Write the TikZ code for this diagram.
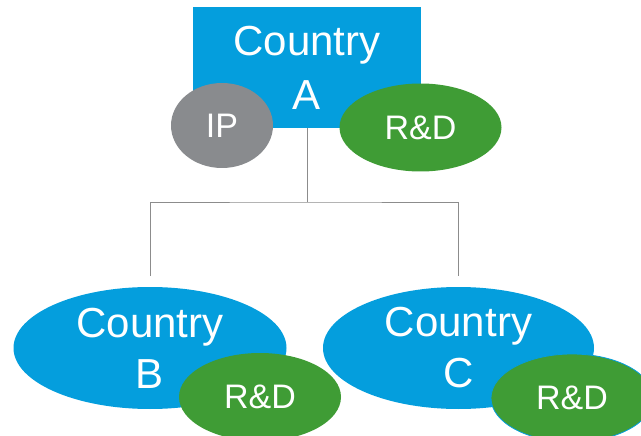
\documentclass[tikz,border=0pt]{standalone}
\usepackage{fontspec}
\setmainfont{Liberation Sans}
\usetikzlibrary{shapes.geometric}
\definecolor{cblue}{RGB}{4,158,221}
\definecolor{cgreen}{RGB}{63,156,53}
\definecolor{cgray}{RGB}{137,139,142}
\definecolor{cline}{RGB}{140,140,140}
\tikzset{
	country/.style={fill=cblue,text=white,align=center,inner sep=0,outer sep=0,font=\fontsize{42}{51}\selectfont},
	part/.style={ellipse,text=white,inner sep=0,outer sep=0,minimum width=162pt,minimum height=88pt,font=\fontsize{34}{40}\selectfont},
	conn/.style={draw=cline,line width=0.8pt}
}
\begin{document}
\begin{tikzpicture}[x=1pt,y=-1pt]
	\useasboundingbox (0,0) rectangle (641,436);
	\clip (0,0) rectangle (641,436);
	\coordinate (j) at (307,202);
	\coordinate (bt) at (150,276);
	\coordinate (ct) at (458,276);
	\node[country,rectangle,minimum width=228pt,minimum height=121pt,font=\fontsize{42}{54}\selectfont] (A) at (307,67.5) {Country\\A};
	\node[part,fill=cgray,minimum width=102pt,minimum height=85pt] (IP) at (222,125.5) {IP};
	\node[part,fill=cgreen] (RDA) at (420.5,127.5) {R\&D};
	\draw[conn] (A) -- (j);
	\draw[conn] (bt) |- (j) -| (ct);
	\node[country,ellipse,minimum width=273pt,minimum height=122pt] (B) at (150,348) {Country\\B};
	\node[part,fill=cgreen] (RDB) at (260,397) {R\&D};
	\node[country,ellipse,minimum width=271pt,minimum height=122pt] (C) at (458.5,348) {Country\\C};
	\node[part,fill=cgreen,draw=cblue,line width=0.8pt] (RDC) at (572,398) {R\&D};
\end{tikzpicture}
\end{document}
